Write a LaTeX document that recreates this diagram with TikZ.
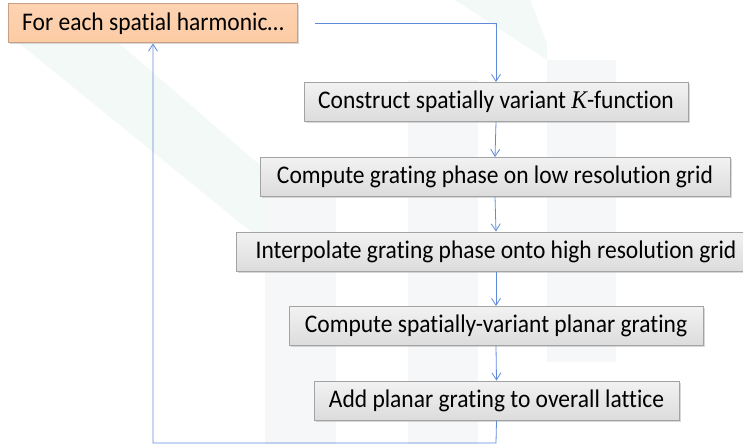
\documentclass[tikz,border=0pt]{standalone}
\usepackage{fontspec}
\setmainfont{Carlito}[Ligatures=NoCommon]
\newfontfamily\kfont{Liberation Serif}
\usetikzlibrary{arrows.meta,shadows}
\definecolor{lnk}{HTML}{5F8AD8}
\definecolor{boxedge}{HTML}{A3A3A3}
\definecolor{boxtop}{HTML}{F2F2F2}
\definecolor{boxbot}{HTML}{DCDCDC}
\definecolor{peach}{HTML}{FCCBA4}
\definecolor{peachtop}{HTML}{FDD3B2}
\definecolor{peachedge}{HTML}{C9A083}
\definecolor{wmgray}{HTML}{F6F7F8}
\definecolor{wmgreen}{HTML}{F3F9F6}
\newcommand{\tx}[1]{\scalebox{1}[1.08]{#1}}
\begin{document}
\begin{tikzpicture}[x=1pt,y=-1pt,
  box/.style={draw=boxedge, line width=1pt, top color=boxtop, bottom color=boxbot,
    minimum height=39pt, inner sep=0pt, font=\fontsize{23.5}{28}\selectfont,
    drop shadow={shadow xshift=1.5pt,shadow yshift=-1.5pt,fill=black!30,opacity=0.5}},
  startbox/.style={box, draw=peachedge, top color=peachtop, bottom color=peach},
  conn/.style={draw=lnk, line width=0.8pt,
    -{Straight Barb[length=7pt,width=9pt,line width=0.8pt]}}]
\useasboundingbox (0,0) rectangle (743,444);
% faint watermark
\fill[wmgreen] (20,44) -- (120,44) -- (335,230) -- (335,300) -- cycle;
\fill[wmgreen] (455,0) -- (530,0) -- (547,43) -- (547,60) -- cycle;
\fill[wmgray] (265,165) rectangle (336,444);
\fill[wmgray] (408,80) rectangle (478,444);
\fill[wmgray] (547,60) rectangle (616,362);
% nodes
\node[startbox, minimum width=289pt] (b1) at (153,23.5) {\tx{For each spatial harmonic\dots}};
\node[box, minimum width=384pt] (b2) at (496,102) {\tx{Construct spatially variant {\kfont\itshape K}-function}};
\node[box, minimum width=470pt] (b3) at (495,177) {\tx{Compute grating phase on low resolution grid}};
\node[box, minimum width=520pt] (b4) at (496,251.5) {\tx{Interpolate grating phase onto high resolution grid}};
\node[box, minimum width=414pt] (b5) at (496,326) {\tx{Compute spatially-variant planar grating}};
\node[box, minimum width=365pt] (b6) at (496.5,400.5) {\tx{Add planar grating to overall lattice}};
\coordinate (st) at (315,23);
\coordinate (lp) at (496,443);
% connectors
\draw[conn] (st) -| (b2.north);
\draw[conn] (b2.south) -- (b3.north);
\draw[conn] (b3.south) -- (b4.north);
\draw[conn] (b4.south) -- (b5.north);
\draw[conn] (b5.south) -- (b6.north);
\draw[conn] (b6.south) -- (lp) -| (b1.south);
\end{tikzpicture}
\end{document}
